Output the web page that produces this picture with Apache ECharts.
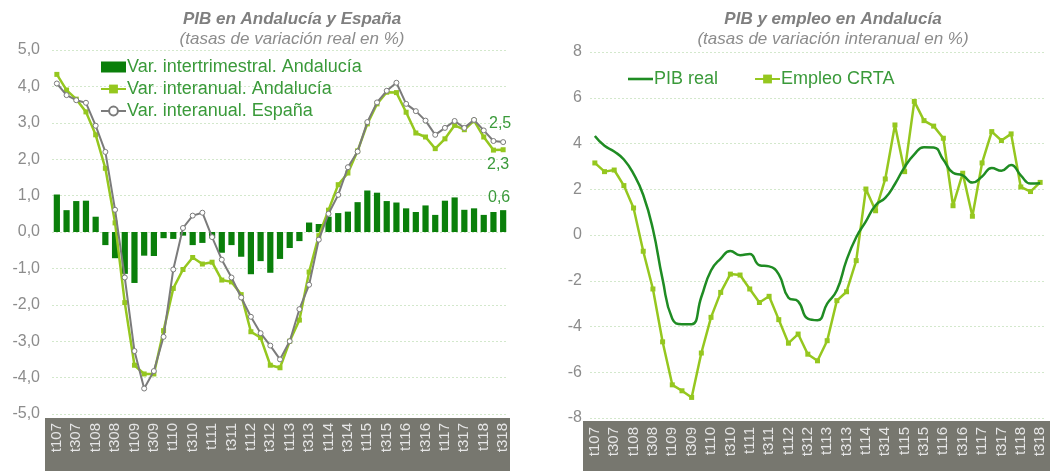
<!DOCTYPE html>
<html><head><meta charset="utf-8">
<script src="https://cdn.jsdelivr.net/npm/echarts@6/dist/echarts.min.js"></script>
<style>html,body{margin:0;padding:0;background:#fff}#c{width:1050px;height:471px}</style>
</head><body><div id="c"></div>
<script>
const categories = ['t107','t207','t307','t407','t108','t208','t308','t408','t109','t209','t309','t409',
  't110','t210','t310','t410','t111','t211','t311','t411','t112','t212','t312','t412',
  't113','t213','t313','t413','t114','t214','t314','t414','t115','t215','t315','t415',
  't116','t216','t316','t416','t117','t217','t317','t417','t118','t218','t318'];

const varIntertrimestralAndalucia = [1.03, 0.6, 0.85, 0.86, 0.42, -0.36, -0.72, -1.15, -1.4, -0.65, -0.66, -0.17,
  -0.19, -0.1, -0.36, -0.3, -0.17, -0.57, -0.36, -0.68, -1.16, -0.8, -1.12, -0.74,
  -0.44, -0.25, 0.26, 0.22, 0.42, 0.52, 0.56, 0.82, 1.14, 1.08, 0.85, 0.81,
  0.65, 0.55, 0.73, 0.47, 0.86, 0.95, 0.61, 0.65, 0.47, 0.55, 0.6];

const varInteranualAndalucia = [4.33, 3.9, 3.65, 3.3, 2.67, 1.75, 0.25, -1.94, -3.66, -3.9, -3.9, -2.71,
  -1.55, -1.03, -0.7, -0.88, -0.83, -1.32, -1.37, -1.72, -2.74, -2.9, -3.66, -3.73,
  -3.0, -2.42, -1.1, -0.1, 0.6, 1.3, 1.62, 2.23, 2.97, 3.52, 3.84, 3.83,
  3.29, 2.72, 2.61, 2.29, 2.56, 2.93, 2.81, 3.06, 2.61, 2.25, 2.26];

const varInteranualEspana = [4.08, 3.76, 3.62, 3.55, 2.92, 2.2, 0.61, -1.25, -3.27, -4.3, -3.82, -2.88,
  -1.03, 0.11, 0.45, 0.53, -0.14, -0.76, -1.25, -1.8, -2.33, -2.78, -3.12, -3.5,
  -3.0, -2.12, -1.45, -0.21, 0.5, 1.02, 1.78, 2.21, 3.02, 3.56, 3.88, 4.1,
  3.52, 3.32, 3.06, 2.67, 2.86, 3.05, 2.86, 3.08, 2.79, 2.5, 2.47];

const pibReal = [4.33, 3.9, 3.65, 3.3, 2.67, 1.75, 0.25, -1.94, -3.66, -3.9, -3.9, -2.71,
  -1.55, -1.03, -0.7, -0.88, -0.83, -1.32, -1.37, -1.72, -2.74, -2.9, -3.66, -3.73,
  -3.0, -2.42, -1.1, -0.1, 0.6, 1.3, 1.62, 2.23, 2.97, 3.52, 3.84, 3.83,
  3.29, 2.72, 2.61, 2.29, 2.56, 2.93, 2.81, 3.06, 2.61, 2.25, 2.26];

const empleoCRTA = [3.15, 2.77, 2.84, 2.16, 1.18, -0.71, -2.36, -4.67, -6.55, -6.81, -7.1, -5.16,
  -3.6, -2.51, -1.71, -1.75, -2.36, -2.95, -2.68, -3.7, -4.73, -4.33, -5.21, -5.5,
  -4.62, -2.87, -2.48, -1.12, 2.01, 1.06, 2.45, 4.81, 2.77, 5.84, 5.0, 4.76,
  4.23, 1.28, 2.7, 0.82, 3.15, 4.52, 4.13, 4.42, 2.1, 1.9, 2.3];

const DARK = '#0a7f0a', LIGHT = '#95c71f', GREY = '#7b7b7b', LABELG = '#3a9a3a';
const FONT = '"Liberation Sans", Arial, sans-serif';
const fmt1 = v => Number(v).toFixed(1).replace('.', ',');
function lastLabel(arr, label) {
  return arr.map((v, i) => i === arr.length - 1 ? { value: v, label: Object.assign({ show: true }, label) } : v);
}
const gridLine = { show: true, lineStyle: { color: '#d3e8cc', type: [2, 2], width: 1 } };
const xAxisCommon = {
  type: 'category', data: categories, boundaryGap: true,
  axisLine: { show: false }, axisTick: { show: false },
  axisLabel: { interval: 1, rotate: 90, color: '#e6e6e6', fontSize: 15, fontFamily: FONT, margin: 9 }
};
const titleStyle = { fontSize: 17, fontWeight: 'bold', fontStyle: 'italic', color: '#7f7f7f', fontFamily: FONT };
const subStyle = { fontSize: 17, fontStyle: 'italic', color: '#8c8c8c', fontFamily: FONT };
const dataLabel = (pos, off) => ({ position: pos, color: LABELG, fontSize: 16, fontFamily: FONT, formatter: p => fmt1(p.value), offset: off });

const chart = echarts.init(document.getElementById('c'), null, { renderer: 'canvas' });
chart.setOption({
  animation: false,
  backgroundColor: '#fff',
  textStyle: { fontFamily: FONT },
  graphic: [
    { type: 'rect', z: 0, shape: { x: 45, y: 418, width: 465, height: 53 }, style: { fill: '#77776f' } },
    { type: 'rect', z: 0, shape: { x: 583, y: 421, width: 467, height: 50 }, style: { fill: '#77776f' } }
  ],
  title: [
    { text: 'PIB en Andalucía y España', subtext: '(tasas de variación real en %)', left: 287, top: 6, textAlign: 'center', itemGap: 3,
      textStyle: titleStyle, subtextStyle: subStyle },
    { text: 'PIB y empleo en Andalucía', subtext: '(tasas de variación interanual en %)', left: 828, top: 6, textAlign: 'center', itemGap: 3,
      textStyle: titleStyle, subtextStyle: subStyle }
  ],
  legend: [
    { orient: 'vertical', left: 100, top: 58, padding: 0, itemGap: 4, itemWidth: 25, itemHeight: 11,
      textStyle: { color: LABELG, fontSize: 18, fontFamily: FONT, padding: [0, 0, 0, -4] },
      data: [{ name: 'Var. intertrimestral. Andalucía', icon: 'rect' }, 'Var. interanual. Andalucía', 'Var. interanual. España'] },
    { orient: 'horizontal', left: 628, top: 70, padding: 0, itemGap: 36, itemWidth: 25, itemHeight: 11,
      textStyle: { color: LABELG, fontSize: 18, fontFamily: FONT, padding: [0, 0, 0, -4] },
      data: [{ name: 'PIB real', icon: 'path://M0,0 L25,0 L25,2.6 L0,2.6 Z' }, 'Empleo CRTA'] }
  ],
  grid: [
    { left: 52, right: 542, top: 50, bottom: 57 },
    { left: 590, right: 5, top: 52, bottom: 53 }
  ],
  xAxis: [
    Object.assign({ gridIndex: 0 }, xAxisCommon),
    Object.assign({ gridIndex: 1 }, xAxisCommon)
  ],
  yAxis: [
    { gridIndex: 0, type: 'value', min: -5, max: 5, interval: 1,
      axisLine: { show: false }, axisTick: { show: false }, splitLine: gridLine,
      axisLabel: { color: '#8c8c8c', fontSize: 16, fontFamily: FONT, margin: 12, formatter: fmt1 } },
    { gridIndex: 1, type: 'value', min: -8, max: 8, interval: 2,
      axisLine: { show: false }, axisTick: { show: false }, splitLine: gridLine,
      axisLabel: { color: '#8c8c8c', fontSize: 16, fontFamily: FONT, margin: 8 } }
  ],
  series: [
    { name: 'Var. intertrimestral. Andalucía', type: 'bar', xAxisIndex: 0, yAxisIndex: 0, barWidth: '64%',
      itemStyle: { color: DARK }, z: 1,
      data: lastLabel(varIntertrimestralAndalucia, dataLabel('top', [-4, 0])) },
    { name: 'Var. interanual. España', type: 'line', xAxisIndex: 0, yAxisIndex: 0, z: 3,
      symbol: 'circle', symbolSize: 5, lineStyle: { color: GREY, width: 2 },
      itemStyle: { color: '#ffffff', borderColor: GREY, borderWidth: 1 },
      data: lastLabel(varInteranualEspana, dataLabel('top', [-3, -2])) },
    { name: 'Var. interanual. Andalucía', type: 'line', xAxisIndex: 0, yAxisIndex: 0, z: 2,
      symbol: 'rect', symbolSize: 5, lineStyle: { color: LIGHT, width: 2.5 },
      itemStyle: { color: LIGHT },
      data: lastLabel(varInteranualAndalucia, dataLabel('bottom', [-5, -1])) },
    { name: 'PIB real', type: 'line', xAxisIndex: 1, yAxisIndex: 1, z: 3, smooth: 0.5,
      symbol: 'none', lineStyle: { color: '#1f8c23', width: 2.5 }, itemStyle: { color: '#1f8c23' },
      data: lastLabel(pibReal, dataLabel('top', [2, 0])) },
    { name: 'Empleo CRTA', type: 'line', xAxisIndex: 1, yAxisIndex: 1, z: 2,
      symbol: 'rect', symbolSize: 5, lineStyle: { color: LIGHT, width: 2.5 }, itemStyle: { color: LIGHT },
      data: empleoCRTA }
  ]
});
</script>
</body></html>
